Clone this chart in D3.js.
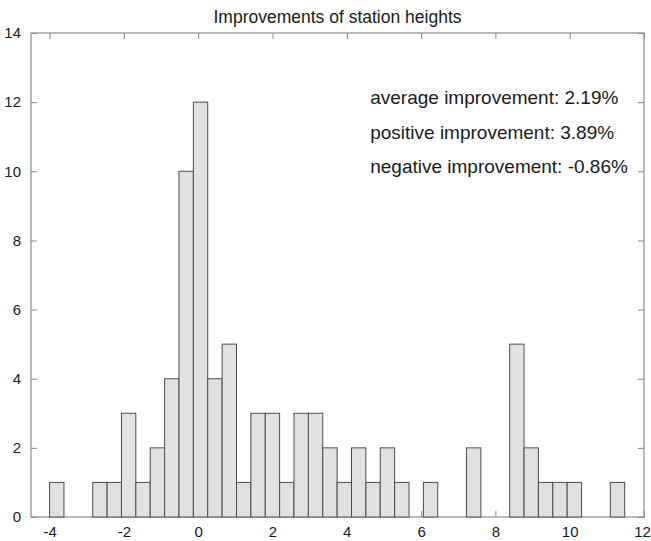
<!DOCTYPE html>
<html>
<head>
<meta charset="utf-8">
<script src="https://cdn.jsdelivr.net/npm/d3@7"></script>
<style>
  body { margin: 0; background: #fff; }
  text { font-family: "Liberation Sans", Arial, sans-serif; fill: #1a1a1a; }
</style>
</head>
<body>
<div id="chart"></div>
<script>
// histogram counts, 40 equal bins between binLo and binHi
const counts = [1, 0, 0, 1, 1, 3, 1, 2, 4, 10,
                12, 4, 5, 1, 3, 3, 1, 3, 3, 2,
                1, 2, 1, 2, 1, 0, 1, 0, 0, 2,
                0, 0, 5, 2, 1, 1, 1, 0, 0, 1];
const binLo = -4.0, binHi = 11.48;
const xTicks = [-4, -2, 0, 2, 4, 6, 8, 10, 12];
const yTicks = [0, 2, 4, 6, 8, 10, 12, 14];
const title = 'Improvements of station heights';
const notes = ['average improvement: 2.19%', 'positive improvement: 3.89%', 'negative improvement: -0.86%'];

const width = 651, height = 541;
const plotL = 31, plotR = 644, plotT = 33, plotB = 517;
const tickLen = 6;

const svg = d3.select('#chart').append('svg')
    .attr('width', width)
    .attr('height', height);

const x = d3.scaleLinear().domain([-4.5, 12]).range([plotL, plotR]);
const y = d3.scaleLinear().domain([0, 14]).range([plotB, plotT]);

const bw = (binHi - binLo) / counts.length;
const bins = counts.map((c, i) => ({ x0: binLo + i * bw, x1: binLo + (i + 1) * bw, count: c }));

const fmt = d => String(d); // plain hyphen minus like the original

// axes with inward ticks (drawn first, bars go over them)
const axisColor = '#8a8a8a';
svg.append('g').attr('transform', `translate(0,${plotB})`)
    .call(d3.axisBottom(x).tickValues(xTicks).tickFormat(fmt).tickSize(-tickLen).tickPadding(tickLen + 3))
    .call(g => g.select('.domain').remove())
    .call(g => g.selectAll('line').attr('stroke', axisColor))
    .call(g => g.selectAll('text').style('font-size', '15px').attr('fill', '#1a1a1a'))
    // last label sits at the page edge, pull it in a touch
    .call(g => g.selectAll('text').filter(d => d === 12).attr('dx', -2));
svg.append('g').attr('transform', `translate(0,${plotT})`)
    .call(d3.axisTop(x).tickValues(xTicks).tickSize(-tickLen).tickFormat(''))
    .call(g => g.select('.domain').remove())
    .call(g => g.selectAll('line').attr('stroke', axisColor));
svg.append('g').attr('transform', `translate(${plotL},0)`)
    .call(d3.axisLeft(y).tickValues(yTicks).tickFormat(fmt).tickSize(-tickLen).tickPadding(tickLen + 4))
    .call(g => g.select('.domain').remove())
    .call(g => g.selectAll('line').attr('stroke', axisColor))
    .call(g => g.selectAll('text').style('font-size', '15px').attr('fill', '#1a1a1a'));
svg.append('g').attr('transform', `translate(${plotR},0)`)
    .call(d3.axisRight(y).tickValues(yTicks).tickSize(-tickLen).tickFormat(''))
    .call(g => g.select('.domain').remove())
    .call(g => g.selectAll('line').attr('stroke', axisColor));

svg.append('rect')
    .attr('x', plotL).attr('y', plotT)
    .attr('width', plotR - plotL).attr('height', plotB - plotT)
    .attr('fill', 'none').attr('stroke', axisColor).attr('stroke-width', 1.2);

// bars
svg.append('g')
    .selectAll('rect')
    .data(bins.filter(d => d.count > 0))
    .join('rect')
    .attr('x', d => x(d.x0))
    .attr('y', d => y(d.count))
    .attr('width', d => x(d.x1) - x(d.x0))
    .attr('height', d => y(0) - y(d.count))
    .attr('fill', '#e1e1e1')
    .attr('stroke', '#4d4d4d')
    .attr('stroke-width', 1);

svg.append('text')
    .attr('x', (plotL + plotR) / 2)
    .attr('y', 22.5)
    .attr('text-anchor', 'middle')
    .style('font-size', '17.5px')
    .text(title);

svg.append('g')
    .selectAll('text')
    .data(notes)
    .join('text')
    .attr('x', x(4.63))
    .attr('y', (d, i) => y(12 - i) + 2)
    .style('font-size', '19px')
    .text(d => d);
</script>
</body>
</html>
